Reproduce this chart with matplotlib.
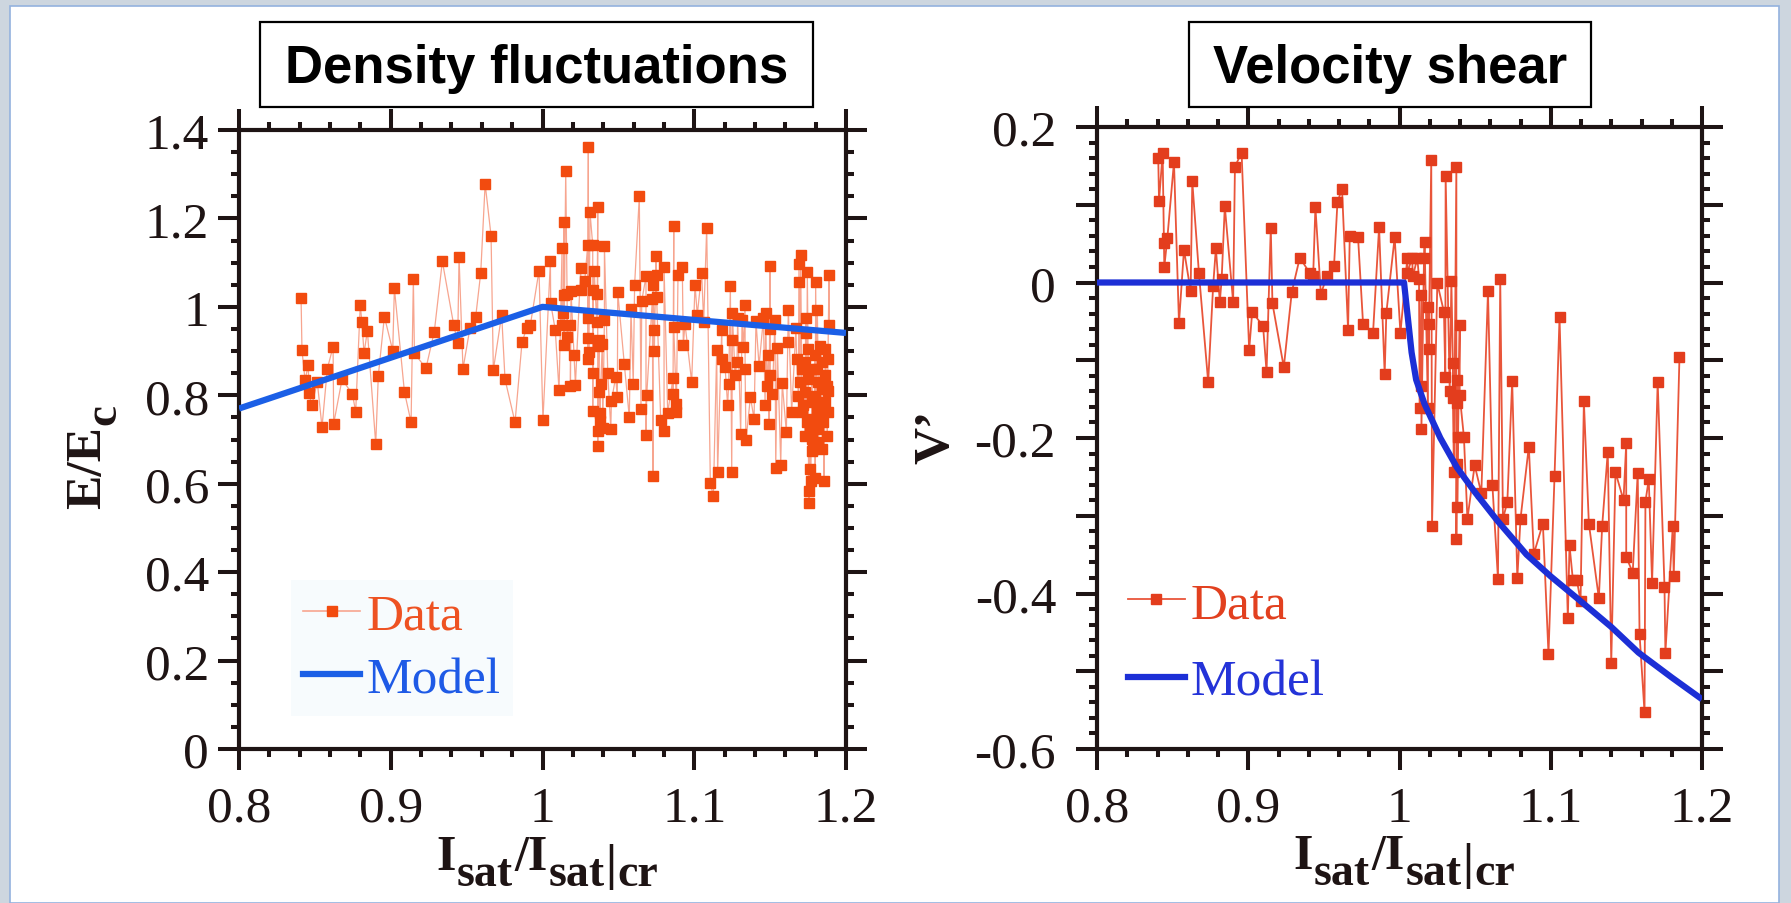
import numpy as np
import matplotlib
matplotlib.use("Agg")
import matplotlib.pyplot as plt
from matplotlib.ticker import MultipleLocator, FuncFormatter
from matplotlib.patches import Rectangle
from matplotlib.lines import Line2D

# ---------------- data ----------------
# Density fluctuations: normalised energy E/Ec versus Isat/Isat|cr
dens_x = [0.8409, 0.8415, 0.8435, 0.8457, 0.8460, 0.8480, 0.8516, 0.8547, 0.8582, 0.8620,
          0.8624, 0.8679, 0.8747, 0.8769, 0.8799, 0.8810, 0.8824, 0.8846, 0.8901, 0.8918,
          0.8958, 0.9013, 0.9024, 0.9090, 0.9134, 0.9149, 0.9156, 0.9232, 0.9287, 0.9340,
          0.9415, 0.9441, 0.9450, 0.9476, 0.9522, 0.9560, 0.9593, 0.9622, 0.9661, 0.9676,
          0.9731, 0.9753, 0.9819, 0.9865, 0.9896, 0.9920, 0.9977, 1.0003, 1.0052, 1.0054,
          1.0084, 1.0109, 1.0129, 1.0129, 1.0133, 1.0140, 1.0142, 1.0142, 1.0153, 1.0162,
          1.0164, 1.0184, 1.0184, 1.0188, 1.0208, 1.0217, 1.0252, 1.0252, 1.0278, 1.0298,
          1.0298, 1.0302, 1.0302, 1.0302, 1.0306, 1.0313, 1.0331, 1.0331, 1.0331, 1.0335,
          1.0341, 1.0357, 1.0361, 1.0364, 1.0364, 1.0364, 1.0364, 1.0372, 1.0372, 1.0379,
          1.0379, 1.0384, 1.0394, 1.0397, 1.0408, 1.0408, 1.0430, 1.0450, 1.0454, 1.0482,
          1.0493, 1.0496, 1.0539, 1.0572, 1.0583, 1.0598, 1.0607, 1.0638, 1.0649, 1.0654,
          1.0682, 1.0682, 1.0687, 1.0724, 1.0728, 1.0728, 1.0737, 1.0737, 1.0748, 1.0752,
          1.0752, 1.0779, 1.0801, 1.0801, 1.0825, 1.0860, 1.0860, 1.0865, 1.0865, 1.0882,
          1.0882, 1.0893, 1.0921, 1.0928, 1.0939, 1.0983, 1.1005, 1.1020, 1.1049, 1.1062,
          1.1082, 1.1106, 1.1126, 1.1148, 1.1154, 1.1181, 1.1183, 1.1203, 1.1220, 1.1227,
          1.1238, 1.1247, 1.1251, 1.1251, 1.1269, 1.1282, 1.1286, 1.1306, 1.1315, 1.1324,
          1.1335, 1.1335, 1.1341, 1.1370, 1.1394, 1.1407, 1.1427, 1.1456, 1.1467, 1.1471,
          1.1478, 1.1488, 1.1493, 1.1497, 1.1499, 1.1501, 1.1515, 1.1532, 1.1537, 1.1548,
          1.1570, 1.1580, 1.1607, 1.1616, 1.1620, 1.1642, 1.1670, 1.1675, 1.1686, 1.1690,
          1.1690, 1.1697, 1.1701, 1.1708, 1.1708, 1.1719, 1.1730, 1.1730, 1.1730, 1.1734,
          1.1734, 1.1741, 1.1745, 1.1752, 1.1752, 1.1753, 1.1757, 1.1763, 1.1764, 1.1768,
          1.1774, 1.1774, 1.1774, 1.1779, 1.1785, 1.1785, 1.1796, 1.1796, 1.1797, 1.1800,
          1.1807, 1.1807, 1.1811, 1.1818, 1.1818, 1.1818, 1.1829, 1.1829, 1.1840, 1.1840,
          1.1845, 1.1851, 1.1855, 1.1862, 1.1862, 1.1862, 1.1873, 1.1877, 1.1879, 1.1879,
          1.1881, 1.1888, 1.1890]
dens_y = [1.020, 0.902, 0.835, 0.868, 0.805, 0.778, 0.830, 0.728, 0.860, 0.910,
          0.736, 0.836, 0.803, 0.763, 1.005, 0.965, 0.895, 0.946, 0.690, 0.844,
          0.978, 0.901, 1.042, 0.808, 0.739, 1.063, 0.895, 0.861, 0.944, 1.103,
          0.959, 0.918, 1.112, 0.860, 0.952, 0.978, 1.077, 1.278, 1.161, 0.857,
          0.982, 0.836, 0.739, 0.920, 0.952, 0.959, 1.082, 0.744, 1.103, 1.008,
          0.948, 0.811, 1.133, 0.958, 0.986, 1.026, 1.191, 0.914, 1.308, 1.029,
          0.931, 0.959, 0.821, 1.035, 0.892, 0.824, 1.089, 1.037, 1.058, 1.139,
          0.882, 1.361, 0.974, 0.929, 0.899, 1.214, 1.140, 0.850, 0.765, 1.038,
          1.081, 0.965, 1.028, 1.225, 0.912, 0.720, 0.686, 0.924, 0.807, 0.761,
          0.741, 0.826, 0.916, 0.725, 0.971, 1.138, 0.851, 0.724, 0.786, 0.841,
          0.796, 1.033, 0.871, 0.750, 0.995, 0.826, 1.050, 1.250, 0.769, 1.013,
          1.069, 0.710, 0.801, 1.018, 0.617, 1.050, 0.948, 0.901, 1.115, 1.073,
          1.022, 0.744, 0.719, 1.090, 0.760, 0.839, 0.803, 1.184, 0.954, 0.780,
          0.763, 1.073, 1.090, 0.914, 0.962, 0.830, 1.050, 0.982, 1.077, 0.965,
          1.179, 0.601, 0.572, 0.903, 0.626, 0.948, 0.882, 0.864, 0.777, 0.826,
          1.047, 0.626, 0.925, 0.986, 0.845, 0.876, 0.974, 0.713, 0.971, 0.909,
          1.005, 0.860, 0.698, 0.796, 0.747, 0.967, 0.867, 0.974, 0.777, 0.986,
          0.820, 0.890, 0.735, 0.950, 1.092, 0.845, 0.803, 0.971, 0.636, 0.906,
          0.643, 0.828, 0.716, 0.920, 0.993, 0.762, 0.952, 0.882, 0.799, 1.056,
          1.096, 0.830, 1.118, 0.860, 0.762, 0.777, 0.875, 0.807, 0.709, 0.974,
          0.941, 0.739, 1.078, 0.837, 0.905, 0.584, 0.557, 0.724, 0.633, 0.607,
          0.784, 0.701, 0.860, 0.675, 0.747, 0.679, 0.799, 0.890, 0.612, 1.056,
          0.762, 0.860, 0.993, 0.830, 0.724, 0.694, 0.777, 0.912, 0.875, 0.814,
          0.679, 0.739, 0.606, 0.845, 0.784, 0.905, 0.822, 0.709, 0.810, 0.763,
          0.882, 1.072, 0.958]
dens_model_x = [0.8, 1.0, 1.2]
dens_model_y = [0.77, 1.0, 0.941]

# Velocity shear V' versus Isat/Isat|cr
shear_x = [0.8405, 0.8410, 0.8434, 0.8443, 0.8445, 0.8465, 0.8509, 0.8542, 0.8575, 0.8619,
           0.8630, 0.8674, 0.8735, 0.8768, 0.8786, 0.8812, 0.8824, 0.8845, 0.8900, 0.8912,
           0.8956, 0.9006, 0.9026, 0.9098, 0.9121, 0.9149, 0.9160, 0.9235, 0.9288, 0.9341,
           0.9407, 0.9429, 0.9444, 0.9480, 0.9521, 0.9567, 0.9590, 0.9620, 0.9660, 0.9671,
           0.9726, 0.9759, 0.9825, 0.9865, 0.9902, 0.9913, 0.9968, 1.0006, 1.0052, 1.0052,
           1.0083, 1.0089, 1.0118, 1.0129, 1.0133, 1.0145, 1.0145, 1.0145, 1.0162, 1.0166,
           1.0188, 1.0188, 1.0193, 1.0193, 1.0210, 1.0215, 1.0250, 1.0294, 1.0303, 1.0305,
           1.0332, 1.0343, 1.0353, 1.0353, 1.0360, 1.0376, 1.0376, 1.0382, 1.0382, 1.0382,
           1.0382, 1.0387, 1.0398, 1.0398, 1.0426, 1.0449, 1.0497, 1.0541, 1.0585, 1.0614,
           1.0651, 1.0666, 1.0684, 1.0713, 1.0745, 1.0779, 1.0800, 1.0855, 1.0888, 1.0948,
           1.0985, 1.1025, 1.1058, 1.1113, 1.1124, 1.1146, 1.1172, 1.1197, 1.1219, 1.1252,
           1.1318, 1.1340, 1.1377, 1.1400, 1.1428, 1.1481, 1.1499, 1.1499, 1.1542, 1.1575,
           1.1587, 1.1620, 1.1626, 1.1648, 1.1670, 1.1707, 1.1752, 1.1758, 1.1807, 1.1813,
           1.1851]
shear_y = [0.160, 0.105, 0.166, 0.051, 0.020, 0.057, 0.155, -0.052, 0.042, -0.011,
           0.130, 0.012, -0.128, -0.004, 0.044, -0.025, 0.004, 0.098, -0.025, 0.149,
           0.167, -0.087, -0.038, -0.056, -0.115, 0.070, -0.027, -0.109, -0.012, 0.032,
           0.012, 0.008, 0.097, -0.015, 0.009, 0.021, 0.104, 0.120, -0.061, 0.060,
           0.058, -0.053, -0.065, 0.071, -0.118, -0.039, 0.058, -0.065, 0.032, 0.012,
           0.032, 0.008, 0.032, 0.005, -0.161, -0.016, -0.133, -0.188, 0.032, 0.052,
           -0.161, -0.032, -0.054, -0.085, 0.158, -0.313, -0.001, -0.038, -0.122, 0.137,
           -0.140, 0.002, -0.103, -0.148, -0.244, 0.149, -0.330, -0.126, -0.155, -0.234,
           -0.289, -0.199, -0.055, -0.145, -0.199, -0.304, -0.235, -0.271, -0.011, -0.260,
           -0.381, 0.004, -0.304, -0.282, -0.127, -0.380, -0.304, -0.211, -0.349, -0.310,
           -0.478, -0.249, -0.045, -0.432, -0.338, -0.382, -0.382, -0.410, -0.153, -0.310,
           -0.406, -0.313, -0.218, -0.489, -0.244, -0.280, -0.207, -0.353, -0.373, -0.245,
           -0.452, -0.553, -0.282, -0.253, -0.386, -0.128, -0.391, -0.476, -0.313, -0.378,
           -0.096]
shear_model_x = [0.8, 1.003, 1.008, 1.011, 1.0165, 1.027, 1.038, 1.05, 1.065, 1.084,
                 1.1, 1.118, 1.14, 1.158, 1.18, 1.2]
shear_model_y = [0.0, 0.0, -0.09, -0.125, -0.156, -0.2, -0.238, -0.27, -0.307, -0.35,
                 -0.378, -0.407, -0.443, -0.476, -0.508, -0.536]

# ---------------- style ----------------
plt.rcParams["font.family"] = ["Liberation Serif", "DejaVu Serif"]
plt.rcParams["axes.unicode_minus"] = False

INK = "#1e1414"
W, H = 1791, 904
fig = plt.figure(figsize=(W / 100, H / 100), dpi=100, facecolor="#cdd6df")
fig.patches.append(Rectangle((10 / W, 0), (1779 - 10) / W, 1 - 7 / H,
                             transform=fig.transFigure, facecolor="white",
                             edgecolor="#94b2de", lw=1.2, zorder=-5))


def px_axes(x0, x1, ytop, ybot):
    return fig.add_axes([x0 / W, 1 - ybot / H, (x1 - x0) / W, (ybot - ytop) / H])


def num_label(v, step=None):
    v = round(v, 6) + 0.0
    if step is not None and abs(v / step - round(v / step)) > 1e-6:
        return ""
    return f"{v:g}"


def style(ax, ymajor, yminor, ylabel_step=None, ypad=6.5):
    ax.set_facecolor("white")
    ax.xaxis.set_major_locator(MultipleLocator(0.1))
    ax.xaxis.set_minor_locator(MultipleLocator(0.02))
    ax.yaxis.set_major_locator(MultipleLocator(ymajor))
    ax.yaxis.set_minor_locator(MultipleLocator(yminor))
    ax.xaxis.set_major_formatter(FuncFormatter(lambda v, p: num_label(v)))
    ax.yaxis.set_major_formatter(FuncFormatter(lambda v, p: num_label(v, ylabel_step)))
    ax.tick_params(which="both", direction="out", top=True, right=True,
                   labeltop=False, labelright=False, color=INK, labelcolor=INK)
    ax.tick_params(which="major", length=15, width=2.9, labelsize=37)
    ax.tick_params(which="minor", length=6, width=2.9)
    ax.tick_params(axis="x", which="major", pad=11)
    ax.tick_params(axis="y", which="major", pad=ypad)
    for s in ax.spines.values():
        s.set_linewidth(3)
        s.set_color(INK)


def rich_label(along, base, pieces, rotation=0):
    """Bold serif label built from pieces (text, size, drop_px) on one baseline.

    along: centre along the writing direction (px); base: baseline position (px),
    both measured from the top-left corner of the figure.
    """
    r = fig.canvas.get_renderer()
    items = []
    for s, size, drop in pieces:
        t = fig.text(0, 0, s, fontsize=size, weight="bold", color=INK,
                     family="Liberation Serif")
        items.append((t, t.get_window_extent(r).width + 1.0, drop))
    total = sum(w for _, w, _ in items)
    pos = -total / 2
    for t, w, drop in items:
        if rotation == 0:
            x, y = along + pos, base + drop
        else:
            x, y = base + drop, along - pos
        t.set_position((x / W, 1 - y / H))
        t.set_ha("left")
        t.set_va("baseline")
        t.set_rotation(rotation)
        t.set_rotation_mode("anchor")
        pos += w


# ---------------- left panel: density fluctuations ----------------
ax1 = px_axes(239, 846, 131, 750)
order = np.argsort(dens_x, kind="stable")
dx = np.asarray(dens_x)[order]
dy = np.asarray(dens_y)[order]
ax1.plot(dx, dy, color="#f7a58f", lw=0.9, zorder=2)
ax1.plot(dx, dy, ls="none", marker="s", ms=6.5, mfc="#f24b0f", mec="#f24b0f", zorder=3)
ax1.plot(dens_model_x, dens_model_y, color="#1b5fe6", lw=4.5, zorder=4,
         solid_capstyle="butt")
ax1.set_xlim(0.8, 1.2)
ax1.set_ylim(0, 1.4)
style(ax1, 0.2, 0.05, ypad=6.5)

h_data1 = Line2D([], [], color="#f7a58f", lw=1.2, marker="s", ms=6.5,
                 mfc="#f24b0f", mec="#f24b0f")
h_model1 = Line2D([], [], color="#1b5fe6", lw=4.5)
leg1 = ax1.legend([h_data1, h_model1], ["Data", "Model"], loc="upper left",
                  bbox_to_anchor=(0.085, 0.273), fontsize=37, handlelength=1.1,
                  handletextpad=0.12, labelspacing=0.32, borderpad=0.25,
                  borderaxespad=0, frameon=True, fancybox=False,
                  labelcolor=["#ee5222", "#1e5ae6"])
leg1.get_frame().set_facecolor("#f6fafd")
leg1.get_frame().set_edgecolor("none")

# ---------------- right panel: velocity shear ----------------
ax2 = px_axes(1097, 1702, 128, 750)
order = np.argsort(shear_x, kind="stable")
sx = np.asarray(shear_x)[order]
sy = np.asarray(shear_y)[order]
ax2.plot(sx, sy, color="#e9553a", lw=1.3, zorder=2)
ax2.plot(sx, sy, ls="none", marker="s", ms=6.5, mfc="#e33d1d", mec="#e33d1d", zorder=3)
ax2.plot(shear_model_x, shear_model_y, color="#1c2fd6", lw=4.5, zorder=4,
         solid_capstyle="butt")
ax2.set_xlim(0.8, 1.2)
ax2.set_ylim(-0.6, 0.2)
style(ax2, 0.1, 0.02, ylabel_step=0.2, ypad=14.5)

h_data2 = Line2D([], [], color="#e9553a", lw=1.3, marker="s", ms=6.5,
                 mfc="#e33d1d", mec="#e33d1d")
h_model2 = Line2D([], [], color="#1c2fd6", lw=4.5)
ax2.legend([h_data2, h_model2], ["Data", "Model"], loc="upper left",
           bbox_to_anchor=(0.03, 0.29), fontsize=37, handlelength=1.1,
           handletextpad=0.12, labelspacing=0.59, borderpad=0.25,
           borderaxespad=0, frameon=False,
           labelcolor=["#e2401f", "#2433d8"])

# ---------------- titles in boxes ----------------
for (x0, x1, txt) in [(260, 813, "Density fluctuations"), (1189, 1591, "Velocity shear")]:
    fig.patches.append(Rectangle((x0 / W, 1 - 108 / H), (x1 - x0) / W, 85 / H,
                                 transform=fig.transFigure, facecolor="white",
                                 edgecolor="black", lw=1.6, zorder=1))
    fig.text((x0 + x1) / 2 / W, 1 - 69 / H, txt, ha="center", va="center",
             family="Liberation Sans", weight="bold", fontsize=38, color="black",
             zorder=2)

# ---------------- axis labels ----------------
xlab = [("I", 36, 0), ("sat", 33, 16), ("/I", 36, 0), ("sat", 33, 16),
        ("|", 36, 9), ("cr", 33, 16)]
rich_label(548, 870, xlab)
rich_label(1405, 869, xlab)
rich_label(456, 100, [("E/E", 37, 0), ("c", 34, 15)], rotation=90)
rich_label(436, 948, [("V\u2019", 37, 0)], rotation=90)

fig.savefig("out.png", dpi=100, facecolor=fig.get_facecolor())
